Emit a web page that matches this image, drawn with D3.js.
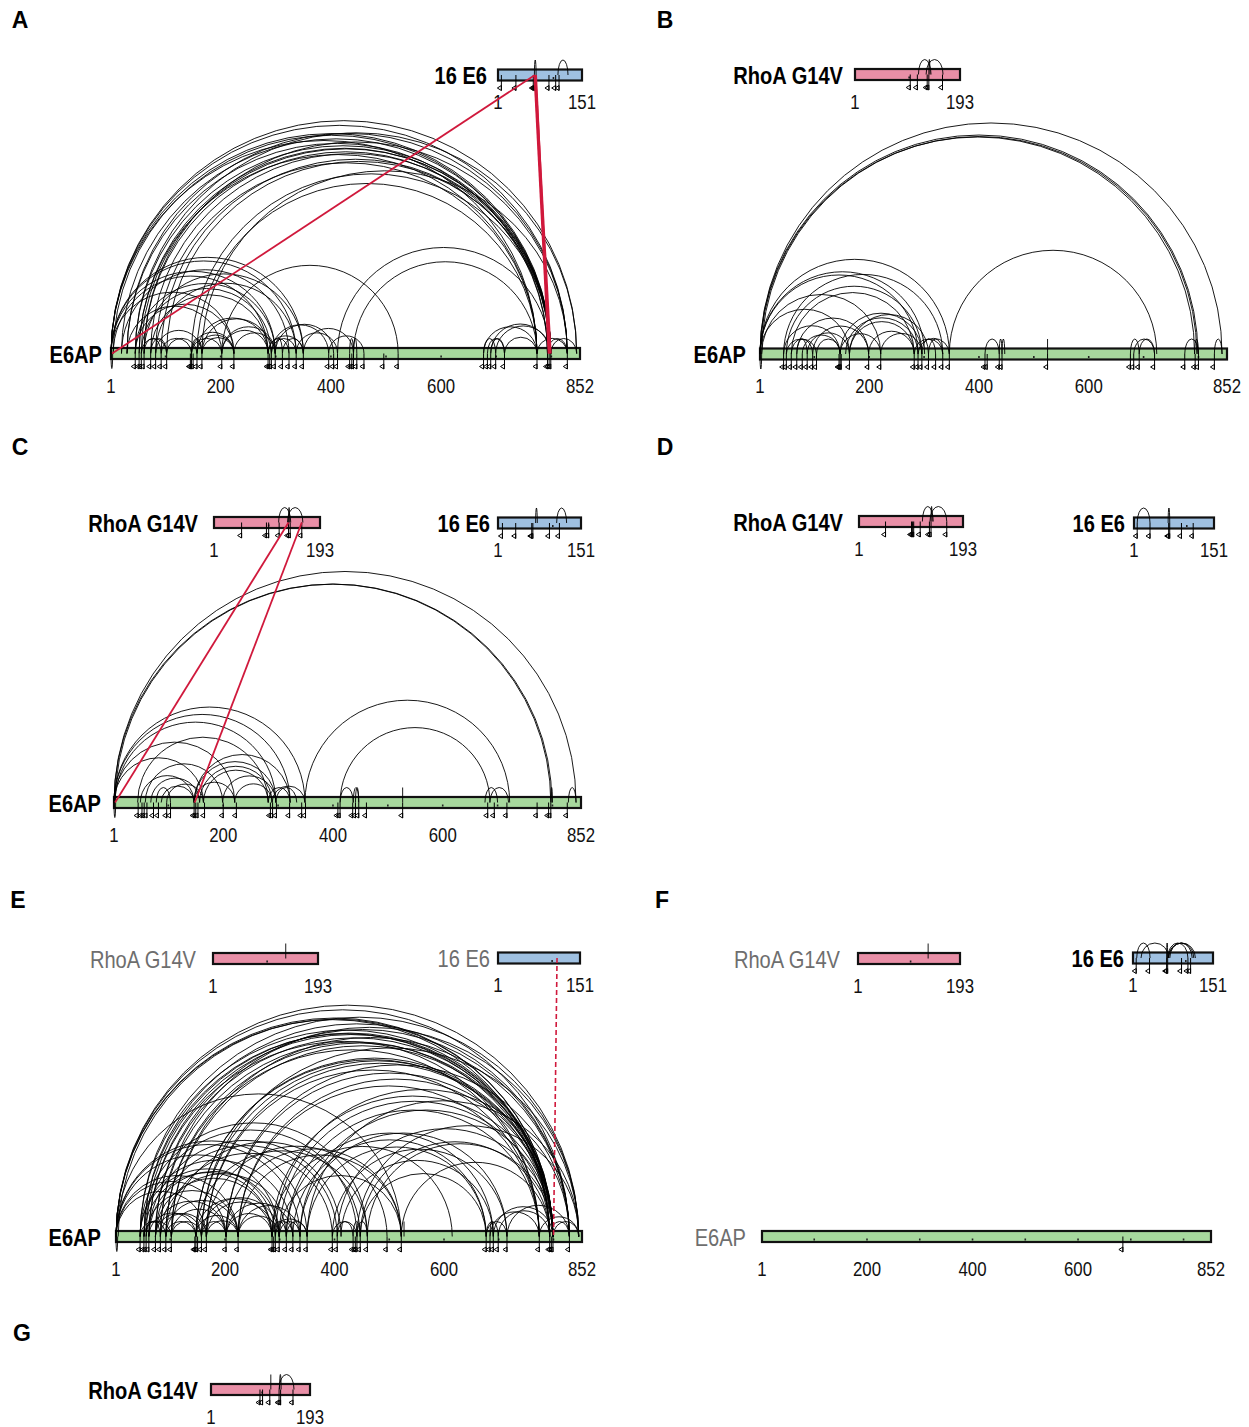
<!DOCTYPE html>
<html><head><meta charset="utf-8">
<script src="https://cdn.jsdelivr.net/npm/d3@7"></script>
<style>body{margin:0;background:#fff}svg{display:block}</style>
</head><body><svg id="c" width="1249" height="1427"></svg>
<script>
// ---------------- DATA ----------------
const proteinNames = ["E6AP", "RhoA G14V", "16 E6"];
const proteinLengths = [852, 193, 151];
const e6apTickLabels = [1, 200, 400, 600, 852];
const rhoaTickLabels = [1, 193];
const e6TickLabels = [1, 151];
const panelLetters = ["A", "B", "C", "D", "E", "F", "G"];

// Panel A
const A_E6AP_links = [[1,846],[1,829],[1,799],[5,797],[20,799],[30,793],[45,799],[52,797],[56,799],[61,829],[45,846],[73,799],[82,774],[92,797],[102,799],[147,799],[157,774],[166,829],[52,774],[61,793],[1,774],[30,829],
  [1,350],[1,337],[20,324],[45,299],[56,292],[61,350],[73,286],[1,224],[30,202],[45,224],[5,286],[82,337],[1,299],[202,522],
  [412,797],[441,774],[350,441],[337,412],[396,460],
  [147,224],[147,202],[157,286],[166,292],[157,224],[202,286],[224,299],[202,299],[166,224],[147,166],[92,147],[102,157],[73,102],[82,166],[56,102],[61,92],[286,324],[292,337],[299,312],[286,350],[312,350],[292,396],[299,405],
  [677,699],[684,715],[690,797],[699,799],[715,774],[677,774],[793,829],[799,846],[774,829],[690,715],[434,441],[441,447]];
const A_E6AP_below = [[1,4]];
const A_E6AP_mono = [45,52,56,61,73,82,92,102,145,147,150,157,166,202,224,286,289,292,299,312,324,337,350,396,405,412,434,438,441,447,460,496,522,677,684,690,699,715,774,793,796,799,829];
const A_E6_links = [[66,69],[108,126]];
const A_E6_mono = [7,33,64,66,68,92,104,110];
const A_inter = [["E6AP",3,"16 E6",67],["E6AP",795,"16 E6",66],["E6AP",797,"16 E6",67],["E6AP",799,"16 E6",68],["E6AP",796,"16 E6",69]];

// Panel B
const B_E6AP_links = [[1,843],[1,799],[4,797],[2,793],[346,724],
  [1,346],[1,301],[1,289],[4,221],[44,334],[49,296],[58,282],[68,199],[1,164],[44,147],[49,104],[58,97],[68,87],[78,147],[87,164],[97,199],[104,147],
  [147,296],[157,289],[164,282],[147,221],[164,308],[199,282],[221,296],[282,334],[289,346],[296,321],[308,334],
  [411,437],[437,442],[442,447],[676,692],[682,720],[692,720],[793,800],[829,843],[775,800],[525,525]];
const B_E6AP_below = [[1,4]];
const B_E6AP_mono = [44,49,58,68,78,87,97,104,145,147,149,164,199,221,282,289,296,308,321,334,346,411,415,437,442,525,676,682,692,720,775,794,800,829];
const B_RhoA_links = [[117,140],[131,162],[136,138]];
const B_RhoA_mono = [102,115,133,136,161];

// Panel C
const C_E6AP_links = [[1,843],[1,797],[3,799],[349,722],[413,686],
  [1,349],[1,322],[3,296],[44,282],[1,221],[1,164],[49,147],[58,199],[68,157],[78,104],[87,147],[97,164],
  [147,296],[147,322],[157,289],[164,282],[147,221],[199,296],[221,289],[282,322],[289,349],[296,334],
  [413,437],[437,447],[441,447],[677,700],[686,720],[797,800],[829,843],[527,527]];
const C_E6AP_below = [[1,4]];
const C_E6AP_mono = [45,52,56,61,73,82,97,104,147,150,154,166,200,224,286,290,297,321,343,350,409,413,436,441,447,461,527,682,694,717,772,793,797,827];
const C_RhoA_links = [[118,140],[134,162],[136,138]];
const C_RhoA_mono = [51,96,100,119,136,139,160];
const C_E6_links = [[69,72],[107,125]];
const C_E6_mono = [9,33,62,64,94,112];
const C_inter = [["RhoA G14V",136,"E6AP",3],["RhoA G14V",160,"E6AP",148]];

// Panel D
const D_RhoA_links = [[118,138],[132,163],[134,136]];
const D_RhoA_mono = [50,98,100,102,114,131,134,163];
const D_E6_links = [[7,31],[65,68]];
const D_E6_mono = [7,31,66,68,90,112];

// Panel E
const E_E6AP_links = [[1,846],[1,829],[1,799],[1,793],[5,799],[45,799],[45,846],[52,793],[52,829],[56,799],[61,774],[61,799],[73,799],[73,829],[82,793],[82,846],[92,799],[92,774],[102,799],[102,829],[147,799],[147,793],[157,846],[157,799],[166,774],[166,799],[202,799],[202,829],[224,799],[224,774],[286,799],[292,829],[299,793],[312,774],[337,799],[350,846],[405,799],[441,846],[447,793],[460,799],[522,793],
  [1,522],[45,460],[52,441],[61,412],[73,405],[92,396],[102,447],[147,460],[166,496],[202,522],[224,522],[286,615],[299,522],[312,690],[324,677],[337,715],[350,677],[396,715],[412,690],[447,677],
  [1,350],[1,337],[1,299],[1,224],[1,202],[1,166],[45,324],[45,292],[52,286],[56,224],[61,299],[73,286],[73,202],[82,312],[82,166],[92,224],[92,147],[102,202],[102,157],[45,102],[52,92],[56,82],[61,147],[73,157],
  [147,286],[147,224],[157,299],[157,202],[166,292],[166,224],[202,286],[202,324],[224,299],[224,337],[286,350],[292,324],[299,337],[312,350],[286,312],
  [396,441],[405,434],[434,447],[441,460],[527,527],
  [677,715],[684,774],[690,799],[699,793],[715,829],[774,846],[793,829],[799,846],[677,699],[684,690]];
const E_E6AP_below = [[1,4]];
const E_E6AP_mono = [45,52,56,61,73,82,92,102,145,147,150,157,166,202,224,286,289,292,299,312,324,337,350,396,405,434,438,441,447,460,496,522,677,684,690,699,715,774,793,796,799,829];
const E_RhoA_links = [[134,134]];
const E_inter_dashed = [["16 E6",109,"E6AP",800]];

// Panel F
const F_E6_links = [[8,33],[16,68],[66,104],[68,115],[67,118],[70,112],[64,66]];
const F_E6_mono = [7,32,64,66,92,104,109];
const F_RhoA_links = [[133,133]];
const F_E6AP_mono = [685];

// Panel G
const G_RhoA_links = [[117,117],[133,162],[134,137]];
const G_RhoA_mono = [96,101,115,133,136,160];

// ---------------- DRAWING ----------------
const FONT = "'Liberation Sans',Arial,sans-serif";
const NARROW = 0.82;
const fillColor = {"E6AP":"#a7d89d","RhoA G14V":"#e98fa7","16 E6":"#9fc0e1"};
const tickLabels = {"E6AP":e6apTickLabels,"RhoA G14V":rhoaTickLabels,"16 E6":e6TickLabels};
const lengthOf = n => proteinNames.indexOf(n) >= 0 ? proteinLengths[proteinNames.indexOf(n)] : 0;
const RED = "#d0193c";
const MINH = 15, BARH = 11;

const svg = d3.select("#c");

const panels = [
 {letter:"A", lp:[20,20], prots:[
   {name:"E6AP", x0:111, x1:580, y:353.5, lx:102, links:A_E6AP_links, below:A_E6AP_below, mono:A_E6AP_mono},
   {name:"16 E6", x0:498, x1:582, y:75, lx:487, links:A_E6_links, mono:A_E6_mono}],
   inter:A_inter},
 {letter:"B", lp:[665,20], prots:[
   {name:"RhoA G14V", x0:855, x1:960, y:74.5, lx:843, links:B_RhoA_links, mono:B_RhoA_mono},
   {name:"E6AP", x0:760, x1:1227, y:354, lx:746, links:B_E6AP_links, below:B_E6AP_below, mono:B_E6AP_mono}]},
 {letter:"C", lp:[20,447], prots:[
   {name:"RhoA G14V", x0:214, x1:320, y:522.5, lx:198, links:C_RhoA_links, mono:C_RhoA_mono},
   {name:"16 E6", x0:498, x1:581, y:523, lx:490, links:C_E6_links, mono:C_E6_mono},
   {name:"E6AP", x0:114, x1:581, y:802.5, lx:101, links:C_E6AP_links, below:C_E6AP_below, mono:C_E6AP_mono}],
   inter:C_inter},
 {letter:"D", lp:[665,447], prots:[
   {name:"RhoA G14V", x0:859, x1:963, y:521.5, lx:843, links:D_RhoA_links, mono:D_RhoA_mono},
   {name:"16 E6", x0:1134, x1:1214, y:523, lx:1125, links:D_E6_links, mono:D_E6_mono}]},
 {letter:"E", lp:[18,900], prots:[
   {name:"RhoA G14V", x0:213, x1:318, y:958.5, lx:196, gray:true, links:E_RhoA_links},
   {name:"16 E6", x0:498, x1:580, y:958, lx:490, gray:true},
   {name:"E6AP", x0:116, x1:582, y:1236.5, lx:101, links:E_E6AP_links, below:E_E6AP_below, mono:E_E6AP_mono}],
   dashed:E_inter_dashed},
 {letter:"F", lp:[662,900], prots:[
   {name:"RhoA G14V", x0:858, x1:960, y:958.5, lx:840, gray:true, links:F_RhoA_links},
   {name:"16 E6", x0:1133, x1:1213, y:958, lx:1124, links:F_E6_links, mono:F_E6_mono},
   {name:"E6AP", x0:762, x1:1211, y:1236.5, lx:746, gray:true, mono:F_E6AP_mono}]},
 {letter:"G", lp:[22,1333], prots:[
   {name:"RhoA G14V", x0:211, x1:310, y:1389.5, lx:198, links:G_RhoA_links, mono:G_RhoA_mono}]}
];

function arcPath(xa, xb, y, up) {
  const a = Math.min(xa, xb), b = Math.max(xa, xb);
  const rx = (b - a) / 2, ry = Math.max(rx, MINH);
  if (rx < 0.5) return `M${a},${y}L${a},${up ? y - ry : y + ry}`;
  return `M${a},${y}A${rx},${ry} 0 0 ${up ? 1 : 0} ${b},${y}`;
}

panels.forEach(pn => {
  const g = svg.append("g");
  g.append("text").attr("x", pn.lp[0]).attr("y", pn.lp[1]).attr("text-anchor","middle")
    .attr("dominant-baseline","central").attr("font-family",FONT)
    .attr("font-weight","bold").attr("font-size",23).text(pn.letter);
  const scales = {};
  pn.prots.forEach(p => {
    const len = lengthOf(p.name);
    const x = d3.scaleLinear().domain([1, len]).range([p.x0, p.x1]);
    scales[p.name] = {x, y: p.y};
    g.append("text").attr("transform", `translate(${p.lx},${p.y + 1}) scale(${NARROW},1)`)
      .attr("text-anchor","end").attr("dominant-baseline","central").attr("font-family",FONT)
      .attr("font-weight", p.gray ? "normal" : "bold").attr("font-size",24.5)
      .attr("fill", p.gray ? "#6e6e6e" : "#000").text(p.name);
    g.append("rect").attr("x", p.x0).attr("y", p.y - BARH/2).attr("width", p.x1 - p.x0)
      .attr("height", BARH).attr("fill", fillColor[p.name]).attr("stroke","#111").attr("stroke-width",2.2);
    // 100-residue scale dots
    g.selectAll(null).data(d3.range(100, len, 100)).join("line")
      .attr("x1", d => x(d)).attr("x2", d => x(d)).attr("y1", p.y + 2).attr("y2", p.y + 4)
      .attr("stroke","#222").attr("stroke-width",1.6);
    const tdy = p.name === "E6AP" ? 32 : 27;
    g.selectAll(null).data(tickLabels[p.name]).join("text")
      .attr("transform", d => `translate(${x(d)},${p.y + tdy}) scale(${NARROW},1)`)
      .attr("text-anchor","middle").attr("dominant-baseline","central")
      .attr("font-family",FONT).attr("font-size",20.5).attr("fill","#111").text(d => d);
  });
  // self links and monolinks
  pn.prots.forEach(p => {
    const {x, y} = scales[p.name];
    g.selectAll(null).data(p.links || []).join("path")
      .attr("d", d => arcPath(x(d[0]), x(d[1]), y, true))
      .attr("fill","none").attr("stroke","#000").attr("stroke-width",0.9);
    g.selectAll(null).data(p.below || []).join("path")
      .attr("d", d => arcPath(x(d[0]), x(d[1]), y, false))
      .attr("fill","none").attr("stroke","#000").attr("stroke-width",0.9);
    const yb = y + BARH/2;
    g.selectAll(null).data(p.mono || []).join("path")
      .attr("d", d => { const xm = x(d); return `M${xm},${y}V${yb+10}M${xm},${yb+5}L${xm-4},${yb+7.5}L${xm},${yb+10}Z`; })
      .attr("fill","none").attr("stroke","#000").attr("stroke-width",1);
  });
  // inter-protein links
  const ends = d => { const a = scales[d[0]], b = scales[d[2]]; return [a.x(d[1]), a.y, b.x(d[3]), b.y]; };
  g.selectAll(null).data(pn.inter || []).join("line")
    .each(function(d){ const e = ends(d); d3.select(this).attr("x1",e[0]).attr("y1",e[1]).attr("x2",e[2]).attr("y2",e[3]); })
    .attr("stroke", RED).attr("stroke-width",1.8);
  g.selectAll(null).data(pn.dashed || []).join("line")
    .each(function(d){ const e = ends(d); d3.select(this).attr("x1",e[0]).attr("y1",e[1]).attr("x2",e[2]).attr("y2",e[3]); })
    .attr("stroke", RED).attr("stroke-width",1.6).attr("stroke-dasharray","5,3");
});
</script></body></html>
